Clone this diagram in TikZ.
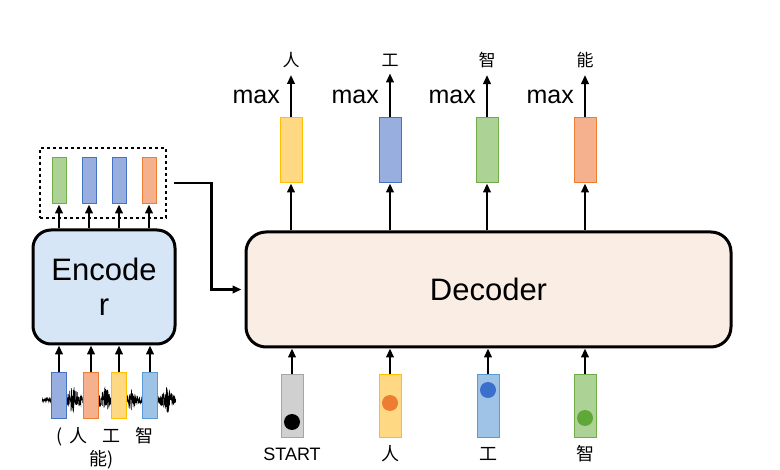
\documentclass[tikz,border=0pt]{standalone}
\usepackage{fontspec}
\setmainfont{Liberation Sans}
\newfontfamily\cjk{Noto Sans CJK SC}
\usetikzlibrary{arrows.meta, positioning}
\definecolor{encfill}{HTML}{D6E6F6}
\definecolor{decfill}{HTML}{FAEDE4}
\definecolor{yellowfill}{HTML}{FFD883}
\definecolor{yellowline}{HTML}{FFC000}
\definecolor{bluefill}{HTML}{98AEDF}
\definecolor{blueline}{HTML}{4472C4}
\definecolor{greenfill}{HTML}{ADD296}
\definecolor{greenline}{HTML}{70AD47}
\definecolor{orangefill}{HTML}{F5B08E}
\definecolor{orangeline}{HTML}{ED7D31}
\definecolor{lightbluefill}{HTML}{9EC3E7}
\definecolor{lightblueline}{HTML}{5B9BD5}
\definecolor{grayfill}{HTML}{D0D0D0}
\definecolor{grayline}{HTML}{A5A5A5}
\definecolor{tokorange}{HTML}{ED7D31}
\definecolor{tokblue}{HTML}{3B6FCC}
\definecolor{tokgreen}{HTML}{5FA838}
\newcommand{\boxfont}{\fontsize{31}{35}\selectfont}
\newcommand{\maxfont}{\fontsize{25}{25}\selectfont}
\newcommand{\labfont}{\fontsize{18}{18}\selectfont}
\tikzset{
  box/.style={draw, line width=3pt, rounded corners=18pt, inner sep=0pt, align=center, font=\boxfont},
  vec/.style={fill=#1fill, draw=#1line, line width=1pt, inner sep=0pt},
  arr/.style={line width=2.2pt, -{Triangle[length=9pt, width=7.5pt]}},
  tok/.style={circle, inner sep=0pt, minimum size=16pt}
}

\begin{document}
\begin{tikzpicture}[x=1pt, y=-1pt]
\useasboundingbox (0,0) rectangle (780,470);
\pgfmathsetseed{12}
\draw[line width=0.5pt] plot[domain=42:176, samples=700] (\x, {400+(1+12/(1+((\x-73)/5)^2)+11/(1+((\x-105)/5)^2)+10/(1+((\x-130)/5)^2)+14/(1+((\x-167)/4)^2))*rand});
\node[box, fill=encfill, minimum width=142pt, minimum height=114pt] (enc) at (104,287) {Encode\\r};
\node[box, fill=decfill, minimum width=485pt, minimum height=115pt, rounded corners=20pt] (dec) at (488.5,289.5) {Decoder};
\node[draw, line width=2.8pt, dash pattern=on 3pt off 3pt, minimum width=126pt, minimum height=70pt] (obox) at (103,183) {};
\foreach \i/\x/\c in {1/59/green, 2/89/blue, 3/119/blue, 4/149/orange} {
  \node[vec=\c, minimum width=14pt, minimum height=46pt] (e\i) at (\x,181) {};
  \draw[arr] (e\i |- enc.north) -- (e\i.south);
}
\foreach \i/\x/\c in {1/59/blue, 2/91/orange, 3/119/yellow, 4/150/lightblue} {
  \node[vec=\c, minimum width=15pt, minimum height=46pt] (s\i) at (\x,396) {};
  \draw[arr] (s\i.north) -- (s\i |- enc.south);
}
\node[font=\cjk\labfont] (lab1) at (105,437) {(\hspace{6pt}人\hspace{15pt}工\hspace{15pt}智};
\node[font=\cjk\labfont] (lab2) at (102,460) {能)};
\draw[arr, shorten >=3pt] ([xshift=7pt]obox.east) -- ++(37,0) |- (dec.west);
\foreach \i/\x/\c/\w in {1/291/yellow/人, 2/390/blue/工, 3/487/green/智, 4/585/orange/能} {
  \node[vec=\c, minimum width=22pt, minimum height=65pt] (o\i) at (\x,150.5) {};
  \draw[arr] (o\i |- dec.north) -- (o\i.south);
  \node[font=\cjk\fontsize{17}{17}\selectfont, inner sep=0pt] (w\i) at (\x,60) {\w};
  \draw[arr, shorten >=7pt] (o\i.north) -- (w\i.south);
  \node[anchor=east, font=\maxfont, inner sep=0pt] (m\i) at ({\x-11},97) {max};
}
\foreach \i/\x/\c/\y/\t/\w in {1/292/gray/422/black/START, 2/390/yellow/403/tokorange/{\cjk 人}, 3/488/lightblue/390/tokblue/{\cjk 工}, 4/585/green/418/tokgreen/{\cjk 智}} {
  \node[vec=\c, minimum width=22pt, minimum height=63pt] (in\i) at (\x,406.5) {};
  \node[tok, fill=\t] (t\i) at (\x,\y) {};
  \draw[arr] (in\i.north) -- (in\i |- dec.south);
  \node[font=\labfont] (l\i) at (\x,454) {\w};
}
\end{tikzpicture}
\end{document}
